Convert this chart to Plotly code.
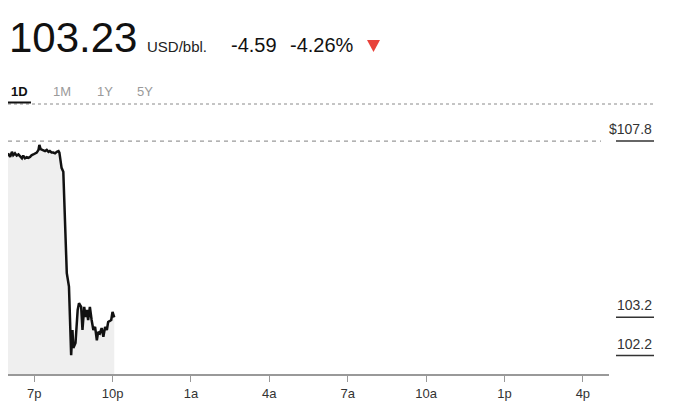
import pandas as pd
import plotly.graph_objects as go

# ---- data ----
minutes_after_6pm = [0, 5, 9, 12, 16, 20, 24, 28, 32, 35, 39, 43, 47, 51, 54, 58, 62, 66, 70, 72,
                     75, 80, 85, 89, 93, 96, 100, 104, 108, 112, 116, 118, 121, 123, 127, 131, 135,
                     140, 142, 145, 148, 150, 155, 160, 163, 168, 171, 175, 178, 181, 184, 188, 192,
                     196, 200, 204, 207, 211, 215, 219, 223, 227, 230, 237, 240, 244]
prices = [107.48, 107.39, 107.52, 107.43, 107.48, 107.42, 107.45, 107.39, 107.35, 107.42, 107.35,
          107.38, 107.36, 107.39, 107.43, 107.45, 107.48, 107.50, 107.57, 107.70, 107.59, 107.57,
          107.54, 107.57, 107.52, 107.54, 107.50, 107.50, 107.48, 107.52, 107.54, 107.50, 107.23,
          107.10, 107.00, 105.66, 104.35, 104.00, 102.95, 102.21, 102.87, 102.40, 102.53, 103.39,
          103.57, 103.47, 102.87, 103.47, 103.21, 103.39, 103.13, 103.47, 103.13, 102.87, 102.95,
          102.60, 102.82, 102.78, 102.92, 102.69, 102.95, 102.87, 103.08, 103.13, 103.34, 103.20]
prev_close = 107.8
last_price = 103.2
day_low = 102.2
tick_labels = ["7p", "10p", "1a", "4a", "7a", "10a", "1p", "4p"]
tick_hours_after_6pm = [1, 4, 7, 10, 13, 16, 19, 22]

session_start = pd.Timestamp("2022-03-09 18:00")
session_end = pd.Timestamp("2022-03-10 17:00")
times = [session_start + pd.Timedelta(minutes=m) for m in minutes_after_6pm]
tick_vals = [session_start + pd.Timedelta(hours=h) for h in tick_hours_after_6pm]

# ---- layout geometry (pixels) ----
W, H = 680, 409
L, R, T, B = 8, 609, 120, 374


def px(x):
    return (x - L) / (R - L)


def py(y):
    return (B - y) / (B - T)


fig = go.Figure()
fig.add_trace(go.Scatter(
    x=times, y=prices, mode="lines",
    line=dict(color="#111111", width=2.5),
    fill="tozeroy", fillcolor="#efefef",
    hoverinfo="skip", showlegend=False,
))

FONT = "Liberation Sans, Arial, sans-serif"

annotations = [
    dict(text="103.23", x=px(7), y=py(38), font=dict(size=42, color="#111111", family=FONT)),
    dict(text="USD/bbl.", x=px(145), y=py(46), font=dict(size=15, color="#222222", family=FONT)),
    dict(text="-4.59", x=px(229), y=py(45), font=dict(size=20, color="#111111", family=FONT)),
    dict(text="-4.26%", x=px(288), y=py(45), font=dict(size=20, color="#111111", family=FONT)),
    dict(text="<b>1D</b>", x=px(9), y=py(91.5), font=dict(size=13, color="#111111", family=FONT)),
    dict(text="1M", x=px(51), y=py(91.5), font=dict(size=13, color="#9a9a9a", family=FONT)),
    dict(text="1Y", x=px(95), y=py(91.5), font=dict(size=13, color="#9a9a9a", family=FONT)),
    dict(text="5Y", x=px(135), y=py(91.5), font=dict(size=13, color="#9a9a9a", family=FONT)),
]
for a in annotations:
    a.update(xref="paper", yref="paper", xanchor="left", yanchor="middle", showarrow=False)

for val, txt in [(prev_close, "$107.8"), (last_price, "103.2"), (day_low, "102.2")]:
    annotations.append(dict(
        text=txt, x=px(654), y=val, xref="paper", yref="y", xanchor="right", yanchor="bottom",
        yshift=2, showarrow=False, font=dict(size=14, color="#333333", family=FONT)))

shapes = [
    # dotted separator under tabs
    dict(type="line", xref="paper", yref="paper", x0=px(8), x1=px(656), y0=py(104), y1=py(104),
         line=dict(color="#8a8a8a", width=1, dash="dot")),
    # selected tab underline
    dict(type="line", xref="paper", yref="paper", x0=px(8), x1=px(31), y0=py(102.5), y1=py(102.5),
         line=dict(color="#111111", width=2)),
    # previous close dashed line
    dict(type="line", xref="paper", yref="y", x0=0, x1=px(601), y0=prev_close, y1=prev_close,
         line=dict(color="#9a9a9a", width=1.2, dash="4px,4px")),
    # down triangle
    dict(type="path", xref="paper", yref="paper",
         path=f"M {px(367)} {py(40)} L {px(380)} {py(40)} L {px(373.5)} {py(52)} Z",
         fillcolor="#e8423a", line=dict(width=0)),
]
for val in [prev_close, last_price, day_low]:
    shapes.append(dict(type="line", xref="paper", yref="y", x0=px(616), x1=px(654), y0=val, y1=val,
                       line=dict(color="#333333", width=1.5)))

fig.update_layout(
    width=W, height=H,
    margin=dict(l=L, r=W - R, t=T, b=H - B),
    paper_bgcolor="white", plot_bgcolor="white",
    annotations=annotations, shapes=shapes,
    hovermode=False,
    xaxis=dict(
        range=[session_start, session_end], tickvals=tick_vals, ticktext=tick_labels,
        showgrid=False, zeroline=False, showline=True, linecolor="#999999", linewidth=2,
        ticks="outside", ticklen=6, tickcolor="#999999", tickwidth=1,
        tickfont=dict(size=13, color="#333333", family=FONT), fixedrange=True,
    ),
    yaxis=dict(
        range=[101.72, 108.35], showgrid=False, zeroline=False, showticklabels=False,
        showline=False, fixedrange=True,
    ),
)

fig.write_html("out.html", config={"displayModeBar": False},
               post_script="document.body.style.margin='0';document.body.style.overflow='hidden';")
